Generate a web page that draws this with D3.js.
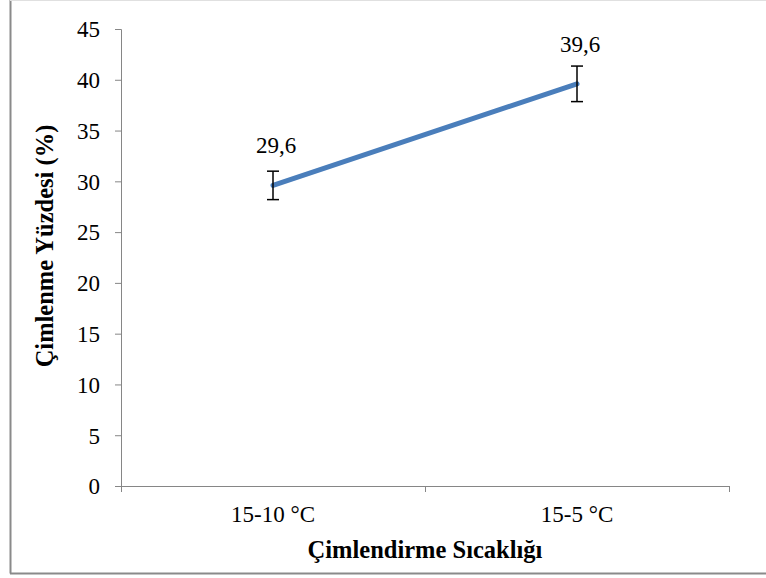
<!DOCTYPE html>
<html><head><meta charset="utf-8">
<script src="https://cdn.jsdelivr.net/npm/d3@7"></script>
<style>body{margin:0;background:#fff}svg{display:block}svg text{font-family:"Liberation Serif","Times New Roman",serif}</style>
</head><body>
<script>
const categories = ["15-10 °C", "15-5 °C"];
const values = [29.6, 39.6];
const labels = ["29,6", "39,6"];
const errors = [1.4, 1.75];
const yTicks = [0, 5, 10, 15, 20, 25, 30, 35, 40, 45];

(function () {
const W = 766, H = 578;
const svg = d3.select("body").append("svg").attr("width", W).attr("height", H);
const fs = 23, tfs = 24.5;

// outer border
svg.append("line").attr("x1", 10.5).attr("x2", 10.5).attr("y1", 0).attr("y2", 573.5).attr("stroke", "#8a8a8a").attr("stroke-width", 2);
svg.append("line").attr("x1", 10).attr("x2", W).attr("y1", 573.5).attr("y2", 573.5).attr("stroke", "#8a8a8a").attr("stroke-width", 2);
svg.append("line").attr("x1", 10).attr("x2", W).attr("y1", 0.5).attr("y2", 0.5).attr("stroke", "#e0e0e0").attr("stroke-width", 1);

const pl = 121, pr = 729, pt = 29, pb = 486;
const y = d3.scaleLinear().domain([0, 45]).range([pb, pt]);
const x = d3.scaleBand().domain(categories).range([pl, pr]);

// y axis
const yAxis = svg.append("g").attr("transform", `translate(${pl},0)`)
  .call(d3.axisLeft(y).tickValues(yTicks).tickSize(6).tickPadding(15));
yAxis.attr("font-family", null);
yAxis.select(".domain").attr("stroke", "#868686");
yAxis.selectAll(".tick line").attr("stroke", "#868686");
yAxis.selectAll("text").style("font-size", fs + "px").attr("fill", "#000").attr("dy", "0.34em");

// x axis
const xAxis = svg.append("g").attr("transform", `translate(0,${pb})`)
  .call(d3.axisBottom(x).tickSize(0).tickPadding(20).tickSizeOuter(0));
xAxis.attr("font-family", null);
xAxis.select(".domain").attr("stroke", "#868686").attr("d", `M${pl - 6},0.5H${pr}`);
xAxis.selectAll("text").style("font-size", fs + "px").attr("fill", "#000").attr("dy", "0.69em");
const bounds = [pl].concat(categories.map(c => x(c) + x.bandwidth()));
svg.append("g").selectAll("line").data(bounds).join("line")
  .attr("x1", d => d + 0.5).attr("x2", d => d + 0.5)
  .attr("y1", pb).attr("y2", pb + 6)
  .attr("stroke", "#868686");

const cx = c => x(c) + x.bandwidth() / 2;

// line
const line = d3.line().x((d, i) => cx(categories[i])).y(d => y(d));
svg.append("path").datum(values).attr("d", line)
  .attr("fill", "none").attr("stroke", "#4a7ebb").attr("stroke-width", 5).attr("stroke-linecap", "round");

// error bars
const eb = svg.append("g").attr("stroke", "#000").attr("stroke-width", 1.5);
values.forEach((v, i) => {
  const px = cx(categories[i]);
  eb.append("line").attr("x1", px).attr("x2", px).attr("y1", y(v - errors[i])).attr("y2", y(v + errors[i]));
  [v - errors[i], v + errors[i]].forEach(e => {
    eb.append("line").attr("x1", px - 6).attr("x2", px + 6).attr("y1", y(e)).attr("y2", y(e));
  });
});

// data labels
svg.append("g").selectAll("text").data(values).join("text")
  .attr("x", (d, i) => cx(categories[i]) + 3)
  .attr("y", d => y(d) - 32)
  .attr("text-anchor", "middle").style("font-size", fs + "px")
  .text((d, i) => labels[i]);

// axis titles
svg.append("text").attr("x", (pl + pr) / 2).attr("y", 558)
  .attr("text-anchor", "middle").style("font-size", tfs + "px").attr("font-weight", "bold")
  .text("Çimlendirme Sıcaklığı");
svg.append("text").attr("transform", `translate(53,246) rotate(-90)`)
  .attr("text-anchor", "middle").style("font-size", tfs + "px").attr("font-weight", "bold")
  .text("Çimlenme Yüzdesi (%)");
})();
</script>
</body></html>
